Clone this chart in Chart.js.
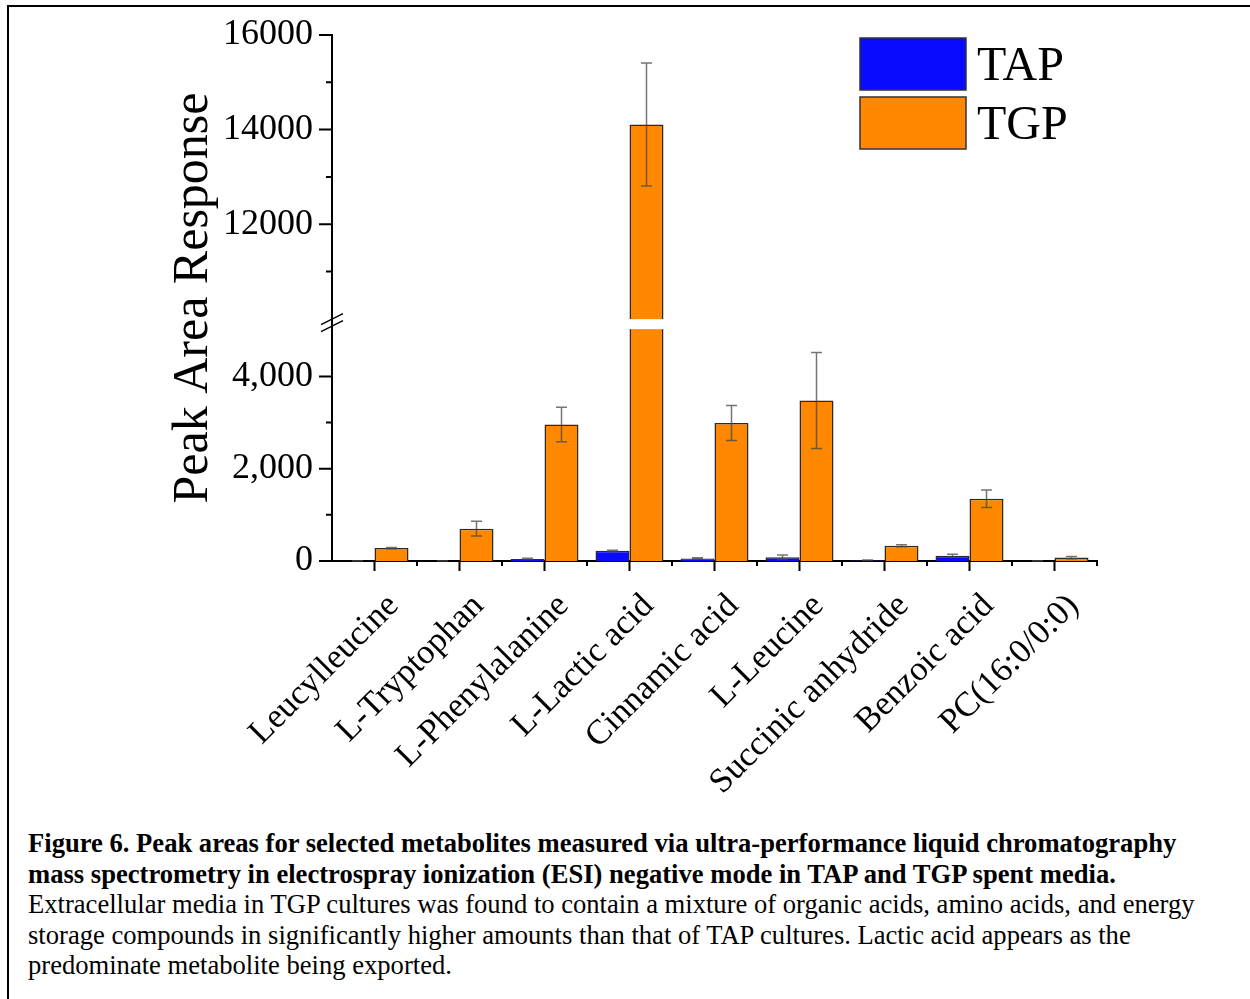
<!DOCTYPE html>
<html lang="en">
<head>
  <meta charset="UTF-8" />
  <title>Figure 6 - Peak areas</title>
  <script src="https://cdn.jsdelivr.net/npm/chart.js"></script>
  <style>
    * { box-sizing: border-box; margin: 0; padding: 0; }
    body { width: 1250px; height: 999px; background: #fff; position: relative; overflow: hidden; font-family: 'Liberation Serif', 'Times New Roman', serif; color: #000; }
    .frame { position: absolute; left: 7px; top: 5px; width: 1250px; height: 1000px; border-left: 2px solid #000; border-top: 2px solid #000; }
    #chart { position: absolute; left: 0; top: 0; }
    .caption { position: absolute; left: 28px; top: 828px; width: 1215px; font-size: 26.6px; line-height: 30.5px; white-space: nowrap; }
    .caption b { font-weight: bold; }
  </style>
</head>
<body>
  <div class="frame"></div>
  <canvas id="chart" width="1250" height="820"></canvas>
  <div class="caption">
    <b>Figure 6. Peak areas for selected metabolites measured via ultra-performance liquid chromatography<br>
    mass spectrometry in electrospray ionization (ESI) negative mode in TAP and TGP spent media.</b><br>
    Extracellular media in TGP cultures was found to contain a mixture of organic acids, amino acids, and energy<br>
    storage compounds in significantly higher amounts than that of TAP cultures. Lactic acid appears as the<br>
    predominate metabolite being exported.
  </div>

  <script>
    const metabolites = ['Leucylleucine', 'L-Tryptophan', 'L-Phenylalanine', 'L-Lactic acid', 'Cinnamic acid',
                         'L-Leucine', 'Succinic anhydride', 'Benzoic acid', 'PC(16:0/0:0)'];
    const tapValues = [5, 5, 45, 220, 55, 80, 15, 115, 5];
    const tapErrors = [3, 3, 15, 12, 15, 50, 5, 30, 3];
    const tgpValues = [280, 700, 2960, 14110, 2990, 3480, 330, 1350, 75];
    const tgpErrors = [15, 160, 375, 1300, 380, 1040, 20, 190, 25];
    const yTicks = [0, 1000, 2000, 3000, 4000, 11000, 12000, 13000, 14000, 15000, 16000];

    const BREAK_LOW = 5200;
    const BREAK_HIGH = 9950;
    const LOW_SHARE = 0.456;

    // linear axis with a gap between BREAK_LOW and BREAK_HIGH
    class BrokenScale extends Chart.LinearScale {
      getPixelForValue(value) {
        if (value === null || isNaN(value)) return NaN;
        let d;
        if (value <= BREAK_LOW) d = (value - this.min) / (BREAK_LOW - this.min) * LOW_SHARE;
        else if (value >= BREAK_HIGH) d = LOW_SHARE + (value - BREAK_HIGH) / (this.max - BREAK_HIGH) * (1 - LOW_SHARE);
        else d = LOW_SHARE;
        return this.getPixelForDecimal(d);
      }
      getValueForPixel(pixel) {
        const d = this.getDecimalForPixel(pixel);
        if (d <= LOW_SHARE) return this.min + d / LOW_SHARE * (BREAK_LOW - this.min);
        return BREAK_HIGH + (d - LOW_SHARE) / (1 - LOW_SHARE) * (this.max - BREAK_HIGH);
      }
    }
    BrokenScale.id = 'broken';
    BrokenScale.defaults = {};
    Chart.register(BrokenScale);

    const errors = [tapErrors, tgpErrors];

    const extras = {
      id: 'extras',
      afterDatasetsDraw(chart) {
        const { ctx, chartArea: a, scales: { x, y } } = chart;
        ctx.save();

        // white gap where the axis is broken
        const yb = y.getPixelForValue(BREAK_LOW);
        ctx.fillStyle = '#fff';
        ctx.fillRect(a.left + 2, yb - 2, a.right - a.left - 2, 10);

        // error bars
        ctx.strokeStyle = 'rgba(70,70,70,0.75)';
        ctx.lineWidth = 1.5;
        chart.data.datasets.forEach((ds, i) => {
          chart.getDatasetMeta(i).data.forEach((bar, j) => {
            const v = ds.data[j], e = errors[i][j];
            const top = y.getPixelForValue(v + e), bot = y.getPixelForValue(v - e);
            ctx.beginPath();
            ctx.moveTo(bar.x, top); ctx.lineTo(bar.x, bot);
            ctx.moveTo(bar.x - 5.5, top); ctx.lineTo(bar.x + 5.5, top);
            ctx.moveTo(bar.x - 5.5, bot); ctx.lineTo(bar.x + 5.5, bot);
            ctx.stroke();
          });
        });

        // tick marks
        ctx.strokeStyle = '#000';
        ctx.lineWidth = 2;
        ctx.beginPath();
        y.ticks.forEach(t => {
          const py = y.getPixelForValue(t.value);
          const len = t.value % 2000 === 0 ? 13 : 6;
          ctx.moveTo(a.left, py); ctx.lineTo(a.left - len, py);
        });
        const step = x.getPixelForValue(1) - x.getPixelForValue(0);
        metabolites.forEach((m, i) => {
          const px = x.getPixelForValue(i);
          ctx.moveTo(px, a.bottom); ctx.lineTo(px, a.bottom + 10);
          ctx.moveTo(px + step / 2, a.bottom); ctx.lineTo(px + step / 2, a.bottom + 5);
        });
        ctx.stroke();

        // break marks on the axis
        ctx.lineWidth = 1.5;
        ctx.beginPath();
        [-2, 5].forEach(o => {
          ctx.moveTo(a.left - 11, yb + o + 5.5);
          ctx.lineTo(a.left + 11, yb + o - 5.5);
        });
        ctx.stroke();

        // legend
        ctx.font = '48px "Liberation Serif"';
        ctx.textBaseline = 'middle';
        chart.data.datasets.forEach((ds, i) => {
          const bx = a.right - 237, by = a.top + 3 + i * 59;
          ctx.fillStyle = ds.backgroundColor;
          ctx.fillRect(bx, by, 106, 52);
          ctx.strokeStyle = '#333';
          ctx.lineWidth = 1.5;
          ctx.strokeRect(bx, by, 106, 52);
          ctx.fillStyle = '#000';
          ctx.fillText(ds.label, bx + 117, by + 29);
        });
        ctx.restore();
      }
    };

    new Chart(document.getElementById('chart'), {
      type: 'bar',
      data: {
        labels: metabolites,
        datasets: [
          { label: 'TAP', data: tapValues, backgroundColor: '#0a0aff', borderColor: '#2a2a2a', borderWidth: 1.5 },
          { label: 'TGP', data: tgpValues, backgroundColor: '#ff8800', borderColor: '#2a2a2a', borderWidth: 1.5 }
        ]
      },
      options: {
        responsive: false,
        animation: false,
        categoryPercentage: 0.8,
        barPercentage: 1.0,
        layout: { padding: { left: 160, top: 35, right: 153, bottom: 0 } },
        plugins: { legend: { display: false }, tooltip: { enabled: false } },
        scales: {
          x: {
            grid: { display: false, drawTicks: true, tickLength: 10 },
            border: { display: true, color: '#000', width: 2 },
            ticks: {
              autoSkip: false, minRotation: 45, maxRotation: 45,
              padding: 15, labelOffset: 19,
              color: '#000', font: { family: 'Liberation Serif', size: 34.5 }
            },
            afterFit: s => { s.height = 259; }
          },
          y: {
            type: 'broken',
            min: 0,
            max: 16000,
            afterBuildTicks: s => { s.ticks = yTicks.map(v => ({ value: v })); },
            grid: { display: false, drawTicks: true, tickLength: 13 },
            border: { display: true, color: '#000', width: 2 },
            ticks: {
              autoSkip: false, padding: 6, color: '#000',
              font: { family: 'Liberation Serif', size: 36 },
              callback: v => v % 2000 !== 0 ? '' : (v < 10000 ? v.toLocaleString('en-US') : String(v))
            },
            title: {
              display: true, text: 'Peak Area Response', color: '#000',
              font: { family: 'Liberation Serif', size: 50 }, padding: { top: 4, bottom: 0 }
            },
            afterFit: s => { s.width = 172; }
          }
        }
      },
      plugins: [extras]
    });
  </script>
</body>
</html>
